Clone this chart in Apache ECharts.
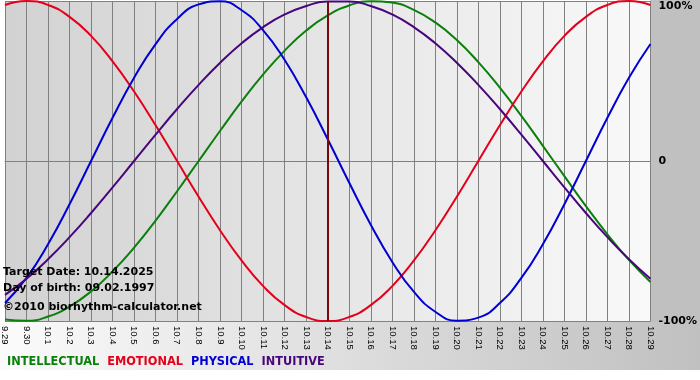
<!DOCTYPE html>
<html>
<head>
<meta charset="utf-8">
<script src="https://cdn.jsdelivr.net/npm/echarts@6/dist/echarts.min.js"></script>
<style>
  html, body { margin: 0; padding: 0; background: #fff; }
  #chart { width: 700px; height: 380px; }
</style>
</head>
<body>
<div id="chart"></div>
<script>
const chart = echarts.init(document.getElementById('chart'));

const days = ['9.29','9.30','10.1','10.2','10.3','10.4','10.5','10.6','10.7','10.8','10.9','10.10','10.11','10.12','10.13','10.14','10.15','10.16','10.17','10.18','10.19','10.20','10.21','10.22','10.23','10.24','10.25','10.26','10.27','10.28','10.29'];
// prettier-ignore
const physical = [-0.888,-0.731,-0.520,-0.270,0,0.270,0.520,0.731,0.888,0.979,0.998,0.942,0.817,0.631,0.398,0.136,-0.136,-0.398,-0.631,-0.817,-0.942,-0.998,-0.979,-0.888,-0.731,-0.520,-0.270,0,0.270,0.520,0.731];
// prettier-ignore
const emotional = [0.975,1,0.975,0.901,0.782,0.623,0.434,0.223,0,-0.223,-0.434,-0.623,-0.782,-0.901,-0.975,-1,-0.975,-0.901,-0.782,-0.623,-0.434,-0.223,0,0.223,0.434,0.623,0.782,0.901,0.975,1,0.975];
// prettier-ignore
const intellectual = [-0.990,-0.999,-0.972,-0.910,-0.815,-0.690,-0.541,-0.372,-0.189,0,0.189,0.372,0.541,0.690,0.815,0.910,0.972,0.999,0.990,0.945,0.866,0.756,0.618,0.458,0.282,0.095,-0.095,-0.282,-0.458,-0.618,-0.756];
// prettier-ignore
const intuitive = [-0.837,-0.736,-0.614,-0.476,-0.325,-0.165,0,0.165,0.325,0.476,0.614,0.736,0.837,0.916,0.969,0.997,0.997,0.969,0.916,0.837,0.736,0.614,0.476,0.325,0.165,0,-0.165,-0.325,-0.476,-0.614,-0.736];
const targetDay = '10.14';
const yTicks = { '1': '100%', '0': '0', '-1': '-100%' };

const colors = {
  INTELLECTUAL: '#0b7f0b',
  EMOTIONAL: '#e3001b',
  PHYSICAL: '#0000d2',
  INTUITIVE: '#47067c'
};

function line(name, data) {
  return {
    name: name,
    type: 'line',
    data: data,
    smooth: true,
    symbol: 'none',
    lineStyle: { width: 2, color: colors[name] },
    itemStyle: { color: colors[name] }
  };
}

const series = [
  line('INTELLECTUAL', intellectual),
  line('EMOTIONAL', emotional),
  line('PHYSICAL', physical),
  line('INTUITIVE', intuitive)
];
// today marker
series[0].markLine = {
  silent: true,
  symbol: 'none',
  label: { show: false },
  lineStyle: { color: '#7a0a0a', width: 2, type: 'solid' },
  data: [{ xAxis: targetDay }]
};

const infoFont = { fontFamily: 'DejaVu Sans', fontWeight: 'bold', fontSize: 11, fill: '#000' };

const option = {
  animation: false,
  backgroundColor: '#fff',
  grid: {
    left: 0, right: 49, top: 1, bottom: 59,
    show: true,
    borderWidth: 0,
    backgroundColor: new echarts.graphic.LinearGradient(0, 0, 1, 0, [
      { offset: 0, color: '#d2d2d2' },
      { offset: 1, color: '#f9f9f9' }
    ])
  },
  graphic: [
    { type: 'rect', z: -10, silent: true, shape: { x: 0, y: 321, width: 700, height: 49 },
      style: { fill: new echarts.graphic.LinearGradient(0, 0, 1, 0, [
        { offset: 0, color: '#fbfbfb' },
        { offset: 1, color: '#c0c0c0' }
      ]) } },
    { type: 'rect', z: -10, silent: true, shape: { x: 651, y: 0, width: 49, height: 322 },
      style: { fill: '#c0c0c0' } },
    { type: 'text', left: 3, top: 267, z: 100, style: Object.assign({ text: 'Target Date: 10.14.2025' }, infoFont) },
    { type: 'text', left: 3, top: 283, z: 100, style: Object.assign({ text: 'Day of birth: 09.02.1997' }, infoFont) },
    { type: 'text', left: 3, top: 302, z: 100, style: Object.assign({ text: '©2010 biorhythm-calculator.net' }, infoFont) }
  ],
  legend: {
    left: 2,
    top: 355,
    itemWidth: 0,
    itemHeight: 0,
    itemGap: 3,
    padding: 0,
    selectedMode: false,
    textStyle: { fontFamily: 'DejaVu Sans Condensed', fontWeight: 'bold', fontSize: 12.6 },
    data: Object.keys(colors).map(function (n) {
      return { name: n, icon: 'none', textStyle: { color: colors[n] } };
    })
  },
  xAxis: {
    type: 'category',
    data: days,
    boundaryGap: false,
    axisLine: { show: true, lineStyle: { color: '#808080', width: 1 } },
    axisTick: { show: true, interval: 0, length: 4, lineStyle: { color: '#808080' } },
    axisLabel: {
      interval: 0,
      rotate: -90,
      margin: 5,
      color: '#000',
      fontSize: 9.5,
      fontFamily: 'Liberation Sans'
    },
    splitLine: { show: true, interval: 0, lineStyle: { color: '#808080', width: 1 } }
  },
  yAxis: {
    type: 'value',
    position: 'right',
    min: -1,
    max: 1,
    interval: 1,
    axisLine: { show: true, lineStyle: { color: '#808080' } },
    axisTick: { show: false },
    axisLabel: {
      margin: 8,
      color: '#000',
      fontSize: 11,
      fontWeight: 'bold',
      fontFamily: 'DejaVu Sans',
      verticalAlignMaxLabel: 'top',
      formatter: function (v) { return yTicks[String(v)]; }
    },
    splitLine: { show: true, lineStyle: { color: '#808080', width: 1 } }
  },
  series: series
};

chart.setOption(option);
window.addEventListener('resize', function () { chart.resize(); });
</script>
</body>
</html>
